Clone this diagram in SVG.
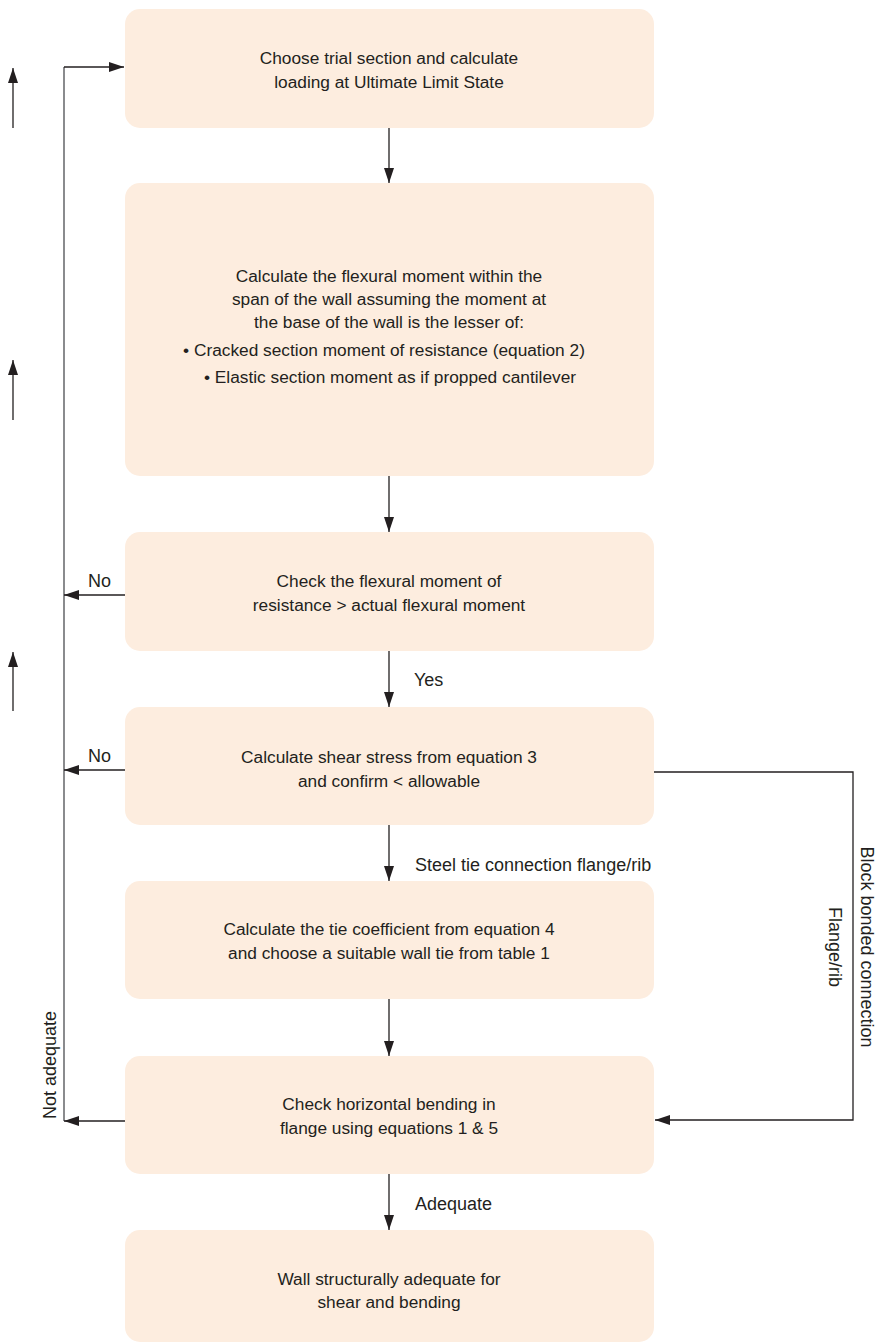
<svg xmlns="http://www.w3.org/2000/svg" width="875" height="1342" viewBox="0 0 875 1342">
<defs>
<style>
.box{fill:#fdeddf;}
.t{font-family:"Liberation Sans",Arial,sans-serif;font-size:17.3px;fill:#231f20;text-anchor:middle;}
.l{font-family:"Liberation Sans",Arial,sans-serif;font-size:18px;fill:#231f20;}
.ln{fill:none;stroke:#231f20;stroke-width:1.3;}
.gl{fill:none;stroke:#6d6e71;stroke-width:1.6;}
</style>
<marker id="ah" markerUnits="userSpaceOnUse" markerWidth="16" markerHeight="11" refX="15" refY="5" orient="auto">
<path d="M0,0 L15,5 L0,10 z" fill="#231f20"/>
</marker>
</defs>
<rect width="875" height="1342" fill="#ffffff"/>
<g id="connectors">
<path class="ln" d="M389,128 V183" marker-end="url(#ah)"/>
<path class="ln" d="M389,476 V532" marker-end="url(#ah)"/>
<path class="ln" d="M389,651 V707" marker-end="url(#ah)"/>
<path class="ln" d="M389,825 V881" marker-end="url(#ah)"/>
<path class="ln" d="M389,999 V1056" marker-end="url(#ah)"/>
<path class="ln" d="M389,1174 V1230" marker-end="url(#ah)"/>
<path class="gl" d="M64,1121 V67"/>
<path class="ln" d="M64,67 H124" marker-end="url(#ah)"/>
<path class="ln" d="M125,595 H64" marker-end="url(#ah)"/>
<path class="ln" d="M125,770 H64" marker-end="url(#ah)"/>
<path class="ln" d="M125,1121 H64" marker-end="url(#ah)"/>
<path class="ln" d="M654,772 H853 V1120 H655" marker-end="url(#ah)"/>
<path class="ln" d="M13,128 V68" marker-end="url(#ah)"/>
<path class="ln" d="M13,420 V360" marker-end="url(#ah)"/>
<path class="ln" d="M13,711 V652" marker-end="url(#ah)"/>
<text class="l" x="88" y="587">No</text>
<text class="l" x="88" y="762">No</text>
<text class="l" x="414" y="686">Yes</text>
<text class="l" x="415" y="871">Steel tie connection flange/rib</text>
<text class="l" x="415" y="1210">Adequate</text>
<text class="l" text-anchor="middle" transform="translate(56,1065) rotate(-90)">Not adequate</text>
<text class="l" text-anchor="middle" transform="translate(861,947) rotate(90)">Block bonded connection</text>
<text class="l" text-anchor="middle" transform="translate(829,947) rotate(90)">Flange/rib</text>
</g>
<g id="n1">
<rect class="box" x="125" y="9" width="529" height="119" rx="15"/>
<text class="t" x="389" y="64">Choose trial section and calculate</text>
<text class="t" x="389" y="88">loading at Ultimate Limit State</text>
</g>
<g id="n2">
<rect class="box" x="125" y="183" width="529" height="293" rx="15"/>
<text class="t" x="389" y="282">Calculate the flexural moment within the</text>
<text class="t" x="389" y="305">span of the wall assuming the moment at</text>
<text class="t" x="389" y="328">the base of the wall is the lesser of:</text>
<text class="t" x="384" y="356">• Cracked section moment of resistance (equation 2)</text>
<text class="t" x="390" y="383">• Elastic section moment as if propped cantilever</text>
</g>
<g id="n3">
<rect class="box" x="125" y="532" width="529" height="119" rx="15"/>
<text class="t" x="389" y="587">Check the flexural moment of</text>
<text class="t" x="389" y="611">resistance &gt; actual flexural moment</text>
</g>
<g id="n4">
<rect class="box" x="125" y="707" width="529" height="118" rx="15"/>
<text class="t" x="389" y="763">Calculate shear stress from equation 3</text>
<text class="t" x="389" y="787">and confirm &lt; allowable</text>
</g>
<g id="n5">
<rect class="box" x="125" y="881" width="529" height="118" rx="15"/>
<text class="t" x="389" y="935">Calculate the tie coefficient from equation 4</text>
<text class="t" x="389" y="959">and choose a suitable wall tie from table 1</text>
</g>
<g id="n6">
<rect class="box" x="125" y="1056" width="529" height="118" rx="15"/>
<text class="t" x="389" y="1110">Check horizontal bending in</text>
<text class="t" x="389" y="1134">flange using equations 1 &amp; 5</text>
</g>
<g id="n7">
<rect class="box" x="125" y="1230" width="529" height="112" rx="15"/>
<text class="t" x="389" y="1285">Wall structurally adequate for</text>
<text class="t" x="389" y="1308">shear and bending</text>
</g>
</svg>
